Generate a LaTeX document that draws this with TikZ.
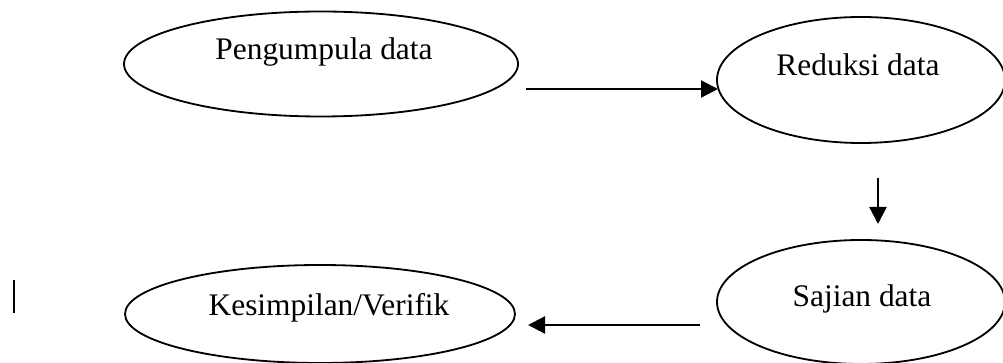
\documentclass[tikz,border=0pt]{standalone}
\usepackage{fontspec}
\setmainfont{Liberation Serif}
\usetikzlibrary{shapes.geometric,arrows.meta,positioning}
\begin{document}
\begin{tikzpicture}[x=0.5pt,y=-0.5pt,
    stage/.style={draw=black, ellipse, line width=.32mm, inner sep=0pt},
    caption/.style={font=\fontsize{15.7}{19}\selectfont, inner sep=0pt},
    flow/.style={-{Triangle[length=8.5pt,width=8.5pt]}, line width=.4mm, black}]
        \useasboundingbox (0,0) rectangle (1003,363);

        %ellipses
        \node[stage, minimum width=197pt, minimum height=52.5pt] (kumpul) at (321,64) {};
        \node[stage, minimum width=144pt, minimum height=63pt] (reduksi) at (861,80) {};
        \node[stage, minimum width=144pt, minimum height=62pt] (sajian) at (861,302) {};
        \node[stage, minimum width=195pt, minimum height=49pt] (simpul) at (320,314) {};

        \node[caption] (kumpulText) at (324,52) {Pengumpula data};
        \node[caption] (reduksiText) at (858,65) {Reduksi data};
        \node[caption] (sajianText) at (862,299) {Sajian data};
        \node[caption] (simpulText) at (329,308) {Kesimpilan/Verifik};

        % horizental
        \coordinate (a1) at (526,89);
        \coordinate (a1end) at (718,89);
        \draw[flow] (a1)--(a1end);

        % vertical
        \coordinate (a2) at (878,178);
        \coordinate (a2end) at (878,224);
        \draw[flow] (a2)--(a2end);

        % back
        \coordinate (a3) at (700,325);
        \coordinate (a3end) at (528,325);
        \draw[flow] (a3)--(a3end);

        % stray bar
        \coordinate (bar) at (14,280);
        \coordinate (barend) at (14,313);
        \draw[line width=.25mm] (bar)--(barend);
    \end{tikzpicture}
\end{document}
